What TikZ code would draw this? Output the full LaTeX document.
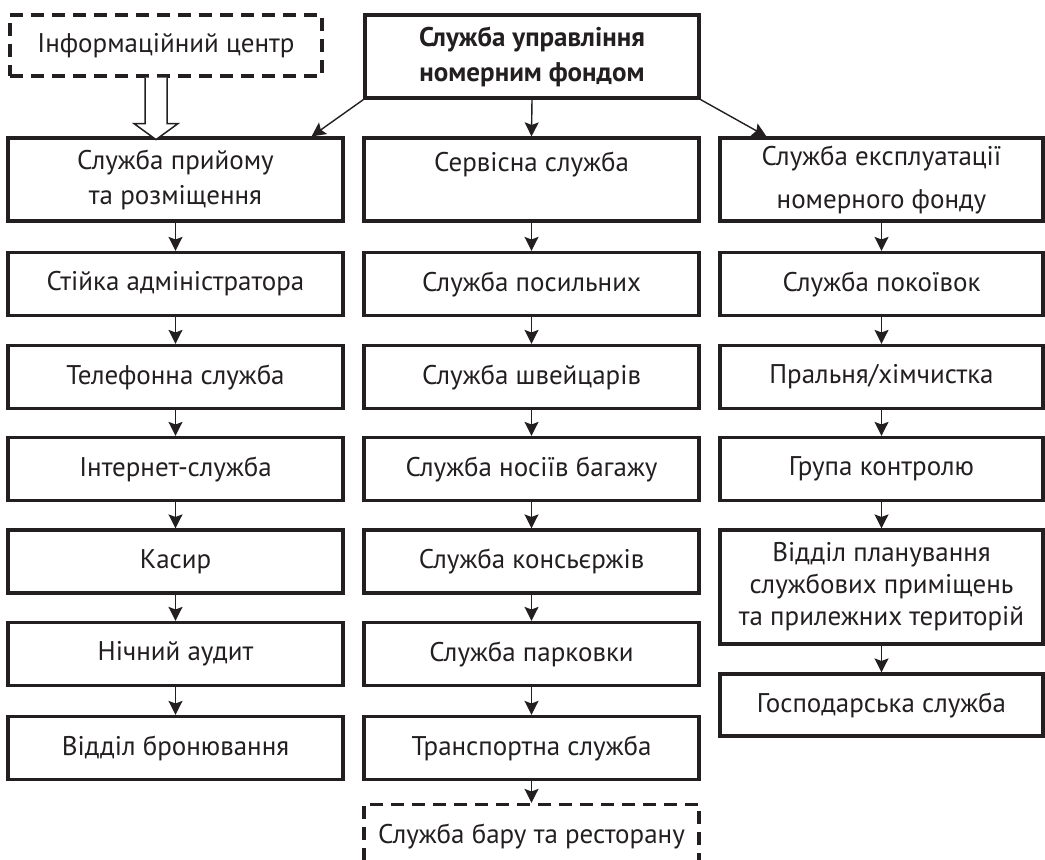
\documentclass[tikz,border=0pt]{standalone}
\usepackage{fontspec}
\setmainfont{PT Sans}
\usetikzlibrary{arrows.meta,calc}
\definecolor{ink}{RGB}{35,31,32}
\begin{document}
\begin{tikzpicture}[x=0.5pt, y=-0.5pt,
  unit/.style = {shape=rectangle, draw=ink, text=ink, line width=1.6pt,
    align=center, inner sep=0pt, font=\fontsize{13.5}{17.5}\selectfont},
  dashunit/.style = {unit, dash pattern=on 6.5pt off 4pt, line width=1.6pt},
  leftcol/.style = {minimum width=167.5pt},
  midcol/.style = {minimum width=167.5pt},
  rightcol/.style = {minimum width=161.5pt},
  tall/.style = {minimum height=41.5pt},
  low/.style = {minimum height=31.5pt},
  link/.style = {draw=ink, line width=0.7pt, -{Stealth[length=7pt,width=7pt,inset=1.3pt]}},
  hollow/.style = {draw=ink, line width=0.75pt, fill=white}]
  \clip (0,0) rectangle (1045,860);

  % top
  \node[unit, minimum width=167pt, tall] (head) at (532,56.5)
    {\bfseries Служба управління\\\bfseries номерним фондом};
  \node[dashunit, minimum width=156pt, minimum height=30.5pt] (info) at (166,45.5)
    {Інформаційний центр};

  % left column
  \node[unit, leftcol, tall] (front) at (175.5,179.5) {Служба прийому\\та розміщення};
  \node[unit, leftcol, low] (desk)    at (175.5,284)   {Стійка адміністратора};
  \node[unit, leftcol, low] (phone)   at (175.5,377)   {Телефонна служба};
  \node[unit, leftcol, low] (web)     at (175.5,469)   {Інтернет-служба};
  \node[unit, leftcol, low] (cash)    at (175.5,561.5) {Касир};
  \node[unit, leftcol, low] (audit)   at (175.5,654)   {Нічний аудит};
  \node[unit, leftcol, low] (booking) at (175.5,748)   {Відділ бронювання};

  % middle column
  \node[unit, midcol, tall] (service) at (531.5,179.5) {Сервісна служба\\\mbox{}};
  \node[unit, midcol, low] (bell)     at (531.5,284)   {Служба посильних};
  \node[unit, midcol, low] (door)     at (531.5,377)   {Служба швейцарів};
  \node[unit, midcol, low] (porter)   at (531.5,469)   {Служба носіїв багажу};
  \node[unit, midcol, low] (concierge) at (531.5,561.5) {Служба консьєржів};
  \node[unit, midcol, low] (parking)  at (531.5,654)   {Служба парковки};
  \node[unit, midcol, low] (transport) at (531.5,748)  {Транспортна служба};
  \node[dashunit, midcol, low] (bar)  at (531.5,836) {Служба бару та ресторану};

  % right column
  \node[unit, rightcol, tall] (rooms) at (881.5,179.5)
    {Служба експлуатації\\[4pt]номерного фонду};
  \node[unit, rightcol, low] (maids)   at (881.5,284)   {Служба покоївок};
  \node[unit, rightcol, low] (laundry) at (881.5,377)   {Пральня/хімчистка};
  \node[unit, rightcol, low] (control) at (881.5,469)   {Група контролю};
  \node[unit, rightcol, minimum height=57pt, font=\fontsize{13.5}{16}\selectfont] (planning) at (881.5,587)
    {Відділ планування\\службових приміщень\\та прилежних територій};
  \node[unit, rightcol, minimum height=31pt] (house) at (881.5,705) {Господарська служба};

  % links from the head
  \draw[link] (head.south west) -- ($(front.north east)+(-33,0)$);
  \draw[link] (head.south) -- (service.north);
  \draw[link] (head.south east) -- ($(rooms.north west)+(48,0)$);

  % hollow arrow
  \coordinate (ha) at (info.south -| 156,0);
  \draw[hollow] (ha) ++(-11,0) -- ++(0,46) -- ++(-11,0) -- ++(22,16)
    -- ++(22,-16) -- ++(-11,0) -- ++(0,-46);

  % chains
  \draw[link] (front) -- (desk);
  \draw[link] (desk) -- (phone);
  \draw[link] (phone) -- (web);
  \draw[link] (web) -- (cash);
  \draw[link] (cash) -- (audit);
  \draw[link] (audit) -- (booking);

  \draw[link] (service) -- (bell);
  \draw[link] (bell) -- (door);
  \draw[link] (door) -- (porter);
  \draw[link] (porter) -- (concierge);
  \draw[link] (concierge) -- (parking);
  \draw[link] (parking) -- (transport);
  \draw[link] (transport) -- (bar);

  \draw[link] (rooms) -- (maids);
  \draw[link] (maids) -- (laundry);
  \draw[link] (laundry) -- (control);
  \draw[link] (control) -- (planning);
  \draw[link] (planning) -- (house);
\end{tikzpicture}
\end{document}
